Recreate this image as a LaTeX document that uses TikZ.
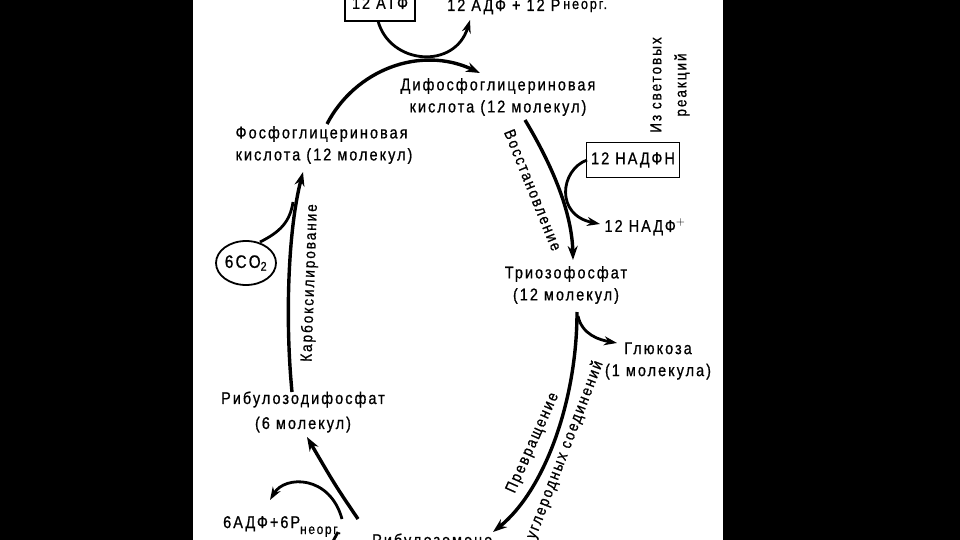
\documentclass[tikz,border=0pt]{standalone}
\usepackage{fontspec}
\setmainfont{Liberation Sans}[FakeStretch=0.85,LetterSpace=12,FakeBold=0.8]
\usetikzlibrary{arrows.meta,shapes.geometric}
\tikzset{
  lbl/.style={font=\fontsize{17}{22}\selectfont, align=center, inner sep=0pt},
  rotlbl/.style={font=\fontsize{16}{20}\selectfont, inner sep=0pt},
  boxnode/.style={draw, line width=1.8pt, font=\fontsize{17}{20}\selectfont, inner sep=0pt},
  flow/.style={line width=3.4pt, -{Stealth[length=14pt,width=10pt]}},
  side/.style={line width=2.8pt, -{Stealth[length=13pt,width=9pt]}},
  plain/.style={line width=2.8pt}
}
\begin{document}
\begin{tikzpicture}[x=1pt,y=-1pt]
\useasboundingbox (0,0) rectangle (960,540);
\fill[black] (0,0) rectangle (960,540);
\fill[white] (193,0) rectangle (723,540);
\clip (193,0) rectangle (723,540);

% nodes
\node[boxnode, minimum width=70pt, minimum height=36pt] (atp) at (380,3) {12 АТФ};
\node[lbl, anchor=base west] (adp) at (447,11) {12 АДФ + 12 P\,\raisebox{2pt}{\fontsize{15}{15}\selectfont неорг.}};
\node[lbl] (dpga) at (498,97) {Дифосфоглицериновая\\кислота (12 молекул)};
\node[lbl, align=left] (pga) at (324,145) {Фосфоглицериновая\\кислота (12 молекул)};
\node[lbl, rotate=90, font=\fontsize{16}{25}\selectfont] (light) at (670,85) {Из световых\\реакций};
\node[boxnode, minimum width=93pt, minimum height=35pt] (nadph) at (633,160) {12 НАДФН};
\node[lbl] (nadp) at (645,227) {12 НАДФ$^{+}$};
\node[lbl] (triose) at (566,285) {Триозофосфат\\(12 молекул)};
\node[lbl] (gluc) at (658,361) {Глюкоза\\(1 молекула)};
\node[draw, ellipse, line width=1.8pt, minimum width=60pt, minimum height=44pt, inner sep=0pt, font=\fontsize{18}{20}\selectfont] (co2) at (246,263) {6CO\textsubscript{2}};
\node[lbl, font=\fontsize{17}{25}\selectfont] (rudp) at (303,412) {Рибулозодифосфат\\(6 молекул)};
\node[lbl, anchor=base west] (adp6) at (223,528) {6АДФ+6P\raisebox{-6pt}{\fontsize{14}{14}\selectfont неорг.}};
\node[lbl, anchor=base west] (rump) at (372,546) {Рибулозомоно-};

% rotated process labels
\node[rotlbl, rotate=-68] (red) at (533,190) {Восстановление};
\node[rotlbl, rotate=88] (carb) at (310,283) {Карбоксилирование};
\node[rotlbl, rotate=66] (conv1) at (533,443) {Превращение};
\node[rotlbl, rotate=69] (conv2) at (565,450) {углеродных соединений};

% coordinates on curves
\coordinate (pgaTop) at (327,124);
\coordinate (dpgaIn) at (480,73);
\coordinate (atpOut) at (378,21);
\coordinate (adpIn) at (470,20);
\coordinate (dpgaOut) at (525,120);
\coordinate (trioseIn) at (573,260);
\coordinate (nadphOut) at (587,160);
\coordinate (nadpIn) at (600,224);
\coordinate (trioseOut) at (577,312);
\coordinate (rumpIn) at (493,532);
\coordinate (glucOut) at (578,316);
\coordinate (glucIn) at (617,343);
\coordinate (rudpOut) at (292,392);
\coordinate (pgaIn) at (303,172);
\coordinate (co2Out) at (260,242);
\coordinate (co2Join) at (293,202);
\coordinate (rumpOut) at (358,519);
\coordinate (rudpIn) at (307,437);
\coordinate (adpBr) at (342,519);
\coordinate (adp6In) at (270,500);

% connectors
\draw[flow] (pgaTop) .. controls (355,70) and (420,45) .. (dpgaIn);
\draw[side] (atpOut) .. controls (390,65) and (455,70) .. (adpIn);
\draw[flow] (dpgaOut) .. controls (555,170) and (572,215) .. (trioseIn);
\draw[side] (nadphOut) .. controls (560,170) and (555,215) .. (nadpIn);
\draw[flow] (trioseOut) .. controls (577,400) and (545,490) .. (rumpIn);
\draw[side] (glucOut) .. controls (582,335) and (600,340) .. (glucIn);
\draw[flow] (rudpOut) .. controls (285,320) and (288,230) .. (pgaIn);
\draw[plain] (co2Out) .. controls (280,232) and (290,222) .. (co2Join);
\draw[flow] (rumpOut) .. controls (335,485) .. (rudpIn);
\draw[side] (adpBr) .. controls (330,475) and (285,475) .. (adp6In);
\coordinate (atpLow) at (331,545);
\coordinate (atpLowEnd) at (338,532);
\draw[plain] (atpLow) -- (atpLowEnd);
\end{tikzpicture}
\end{document}
